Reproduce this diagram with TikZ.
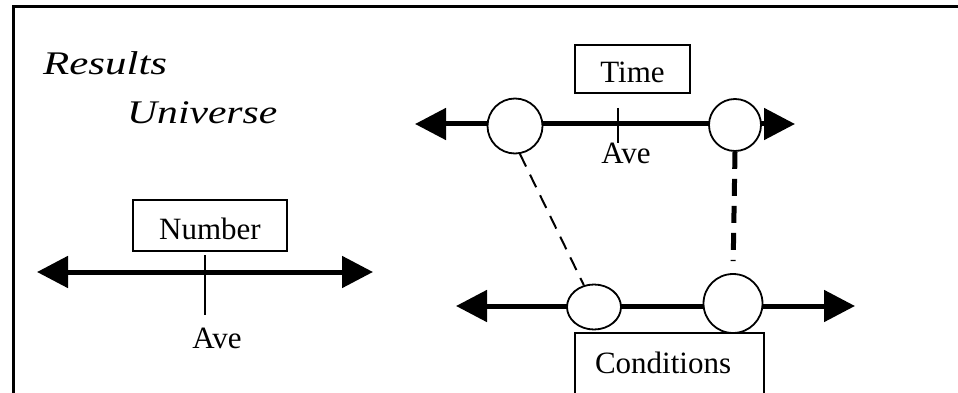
\documentclass[tikz,border=0pt]{standalone}
\usepackage{fontspec}
\setmainfont{Liberation Serif}
\usetikzlibrary{arrows.meta,shapes.geometric}
\begin{document}
\begin{tikzpicture}[x=1pt,y=-1pt,
  tri/.tip={Triangle[length=31pt,width=31pt]},
  axis/.style={line width=5pt,{tri}-{tri}},
  txt/.style={font=\fontsize{31}{36}\selectfont, inner sep=0pt},
  title/.style={font=\fontsize{33}{38}\selectfont\itshape, inner sep=0pt, anchor=base west},
  boxed/.style={txt, draw, line width=1.6pt},
  ring/.style={draw, circle, fill=white, line width=1.8pt, inner sep=0pt},
  oval/.style={draw, ellipse, fill=white, line width=1.8pt, inner sep=0pt},
  tickline/.style={line width=1.5pt},
  thindash/.style={line width=2pt, dash pattern=on 14pt off 9pt},
  thickdash/.style={line width=5pt, dash pattern=on 17pt off 10pt}
]
\useasboundingbox (0,0) rectangle (958,393);
% frame
\draw[line width=3.3pt, line join=miter] (13.3,400) -- (13.3,6.7) -- (960,6.7);

% title
\node[title] (res) at (43,75) {\scalebox{1.3}[1]{Results}};
\node[title] (uni) at (127,124) {\scalebox{1.26}[1]{Universe}};

% left axis
\coordinate (la) at (37,272);
\coordinate (lb) at (373,272);
\draw[axis] (la) -- (lb);
\node[boxed, minimum width=154pt, text height=39pt, text depth=12pt] (num) at (210,225.5) {Number};
\coordinate (lt1) at (205,255);
\coordinate (lt2) at (205,315);
\draw[tickline] (lt1) -- (lt2);
\node[txt, anchor=base] (ave1) at (217,348) {Ave};

% top axis
\coordinate (ta) at (415,124);
\coordinate (tb) at (795,124);
\draw[axis] (ta) -- (tb);
\node[ring, minimum size=55pt] (tl) at (515,126) {};
\node[ring, minimum size=52pt] (tr) at (735,125) {};
\coordinate (tt1) at (618,108);
\coordinate (tt2) at (618,143);
\draw[tickline] (tt1) -- (tt2);
\node[txt, anchor=base] (ave2) at (626,163) {Ave};
\node[boxed, minimum width=115pt, text height=38pt, text depth=10pt] (time) at (632.5,69) {Time};

% bottom axis
\coordinate (ba) at (456,306);
\coordinate (bb) at (855,306);
\draw[axis] (ba) -- (bb);
\node[oval, minimum width=54pt, minimum height=45pt] (el) at (594,307) {};
\node[ring, minimum size=59pt] (br) at (733,303.5) {};
\node[txt, inner xsep=20pt, text width=149pt, align=left, text height=40pt, text depth=22pt] (cond) at (669.5,364) {Conditions};
\draw[line width=1.6pt] (cond.south west) |- (cond.north east) -- (cond.south east);

% links
\draw[thindash] (tl.-80) -- (el.115);
\draw[thickdash, shorten >=12pt] (tr.south) -- (br.north);
\end{tikzpicture}
\end{document}
